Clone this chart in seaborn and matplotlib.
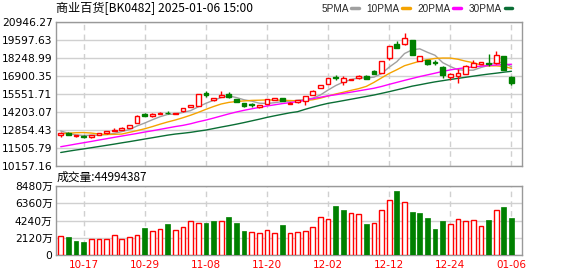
import numpy as np
import pandas as pd
import matplotlib
matplotlib.use("Agg")
import matplotlib.pyplot as plt
import seaborn as sns
from matplotlib.lines import Line2D

# ---------------- data ----------------
title = "商业百货[BK0482] 2025-01-06 15:00"
vol_title = "成交量:44994387"
date_ticks = [3, 11, 19, 27, 35, 43, 51, 59]
date_labels = ["10-17", "10-29", "11-08", "11-20", "12-02", "12-12", "12-24", "01-06"]
price_ticks = [10157.16, 11505.79, 12854.43, 14203.07, 15551.71,
               16900.35, 18248.99, 19597.63, 20946.27]
vol_ticks = [0, 2120, 4240, 6360, 8480]
vol_tick_labels = ["0", "2120万", "4240万", "6360万", "8480万"]
ma_names = ["5PMA", "10PMA", "20PMA", "30PMA"]

opens = [12493, 12573, 12370, 12400, 12330, 12470, 12570, 12780, 12860, 12990,
         13350, 14050, 13850, 14030, 14120, 14020, 14220, 14550, 14620, 15600,
         15110, 15340, 15520, 15170, 14850, 14780, 14550, 14790, 15090, 15210,
         14800, 14900, 15040, 15440, 15970, 16310, 16780, 16460, 16590, 16710,
         16910, 17280, 17140, 18250, 19280, 19250, 19580, 18010, 18080, 17910,
         17580, 16830, 16890, 17040, 17580, 17760, 17860, 17840, 18380, 16830]
closes = [12617, 12478, 12420, 12280, 12430, 12570, 12770, 12840, 12950, 13220,
          13900, 13870, 14050, 14080, 14080, 14060, 14470, 14720, 15500, 15420,
          15200, 15490, 15330, 14920, 14600, 14700, 14720, 15150, 15200, 15020,
          14870, 15050, 15390, 15770, 16210, 16710, 16720, 16710, 16660, 16910,
          16660, 17040, 18010, 19110, 18960, 19700, 18440, 18380, 17810, 17840,
          16940, 17010, 17140, 17660, 17840, 17930, 17800, 18430, 17330, 16390]
highs = [12650, 12677, 12440, 12430, 12450, 12590, 12790, 12950, 13070, 13240,
         13920, 14070, 14070, 14150, 14220, 14100, 14490, 14740, 15520, 15760,
         15220, 15740, 15680, 15190, 14870, 14880, 14740, 15170, 15260, 15230,
         14900, 15070, 15410, 15830, 16230, 16730, 16950, 16870, 16680, 16930,
         16930, 17300, 18030, 19130, 19480, 20130, 19600, 18400, 18100, 18060,
         17600, 17090, 17390, 17680, 18040, 17950, 18510, 18760, 18400, 16850]
lows = [12304, 12450, 12330, 12250, 12260, 12450, 12550, 12760, 12840, 12970,
        13330, 13850, 13830, 14010, 14060, 14000, 14200, 14530, 14600, 15330,
        15040, 15320, 15250, 14900, 14580, 14580, 14460, 14770, 15070, 15000,
        14780, 14880, 14720, 15420, 15950, 16290, 16600, 16240, 16570, 16690,
        16640, 17020, 17120, 18040, 18940, 19230, 18420, 17980, 17700, 17700,
        16760, 16590, 16350, 17020, 17530, 17740, 17640, 17800, 17310, 16240]
# volume in 万
volumes = [2318, 2194, 1697, 1573, 1904, 1904, 1904, 2401, 1904, 2153,
           2401, 3312, 2898, 3146, 3809, 3022, 3436, 4140, 3892, 3933,
           4181, 4140, 4678, 3933, 2939, 2774, 2650, 3022, 2650, 3685,
           2650, 2774, 2898, 3395, 4637, 4388, 6044, 5548, 5134, 5009,
           3809, 3892, 5506, 6748, 7907, 6500, 5299, 5175, 4554, 3188,
           4181, 3767, 4388, 4140, 4264, 3519, 4305, 5506, 5920, 4499]
vol_up = [1, 0, 0, 0, 1, 1, 1, 1, 1, 1,
          1, 0, 1, 1, 0, 1, 1, 1, 1, 0,
          0, 1, 0, 0, 0, 1, 1, 1, 1, 0,
          1, 1, 1, 1, 1, 1, 0, 0, 1, 1,
          0, 1, 1, 1, 0, 1, 0, 0, 0, 0,
          0, 1, 1, 1, 1, 1, 0, 1, 0, 0]
ma5 = [12760, 12580, 12470, 12420, 12445, 12436, 12494, 12578, 12712, 12870,
       13136, 13356, 13600, 13826, 13998, 14030, 14150, 14284, 14568, 14830,
       15058, 15262, 15384, 15264, 15094, 14994, 14840, 14820, 14876, 14960,
       14994, 15060, 15108, 15222, 15460, 15828, 16162, 16426, 16604, 16740,
       16730, 16794, 17054, 17544, 17954, 18560, 18840, 18914, 18654, 18430,
       17878, 17592, 17344, 17314, 17314, 17512, 17670, 17928, 17862, 17572]
ma10 = [12551, 12589, 12626, 12641, 12603, 12529, 12492, 12507, 12529, 12658,
        12786, 12925, 13088, 13268, 13433, 13582, 13752, 13940, 14150, 14380,
        14590, 14780, 14900, 14970, 15010, 15050, 15065, 15090, 15075, 15055,
        15040, 15020, 15040, 15100, 15220, 15380, 15530, 15660, 15800, 15930,
        16100, 16400, 16740, 17074, 17349, 17648, 17820, 17987, 18102, 18195,
        18223, 18220, 18133, 17988, 17876, 17699, 17635, 17640, 17592, 17447]
ma20 = [11579, 11677, 11781, 11878, 11976, 12080, 12178, 12282, 12380, 12477,
        12574, 12679, 12776, 12880, 12985, 13090, 13179, 13299, 13448, 13575,
        13725, 13882, 14039, 14181, 14308, 14420, 14525, 14630, 14719, 14809,
        14884, 14958, 15070, 15182, 15287, 15392, 15474, 15572, 15669, 15766,
        15863, 15960, 16095, 16252, 16401, 16551, 16693, 16835, 16962, 17089,
        17224, 17336, 17426, 17500, 17560, 17613, 17665, 17702, 17732, 17755]
ma30 = [11146, 11243, 11333, 11415, 11505, 11594, 11684, 11774, 11871, 11961,
        12058, 12156, 12252, 12350, 12447, 12529, 12589, 12656, 12746, 12828,
        12940, 13052, 13157, 13269, 13389, 13516, 13643, 13778, 13897, 14009,
        14121, 14203, 14383, 14547, 14697, 14831, 14929, 15033, 15138, 15242,
        15347, 15452, 15578, 15705, 15841, 15976, 16117, 16222, 16334, 16439,
        16528, 16618, 16700, 16782, 16865, 16947, 17022, 17089, 17164, 17231]

# ---------------- style ----------------
RED = "#ff0000"
GREEN = "#008000"
MA_COLORS = ["#a0a0a0", "#f5a300", "#ff00ff", "#0a6e35"]
GRID = "#d0d0d0"
SPINE = "#999999"
FS = 7.7

sns.set_theme(style="white")
plt.rcParams["font.family"] = ["DejaVu Sans", "Noto Sans CJK SC"]

W, H = 578, 276
fig = plt.figure(figsize=(W / 100, H / 100), dpi=100)
fig.patch.set_facecolor("white")

L, R = 56, 522.3
ax = fig.add_axes([L / W, 1 - 165.7 / H, (R - L) / W, (165.7 - 21.7) / H])
axv = fig.add_axes([L / W, 1 - 254.7 / H, (R - L) / W, (254.7 - 186.3) / H])

n = len(closes)
x = np.arange(n)
o = np.array(opens, float)
c = np.array(closes, float)
up = c >= o

# moving averages
for vals, col in zip([ma5, ma10, ma20, ma30], MA_COLORS):
    sns.lineplot(x=x, y=vals, ax=ax, color=col, lw=1.0, zorder=2, legend=False)

# candles
cand_cols = [RED if u else GREEN for u in up]
ax.vlines(x, lows, highs, colors=cand_cols, lw=1, zorder=3)
body_h = np.maximum(np.abs(c - o), 50)
ax.bar(x, body_h, bottom=np.minimum(o, c), width=0.62,
       color=["white" if u else GREEN for u in up],
       edgecolor=cand_cols, linewidth=1, zorder=4)

# volume
df = pd.DataFrame({"i": x, "vol": volumes,
                   "dir": ["up" if u else "down" for u in vol_up]})
sns.barplot(data=df, x="i", y="vol", hue="dir", palette={"up": RED, "down": GREEN},
            dodge=False, width=0.62, saturation=1, ax=axv, legend=False, zorder=3)
for p in axv.patches:
    idx = int(round(p.get_x() + p.get_width() / 2))
    if 0 <= idx < n and vol_up[idx]:
        p.set_facecolor("white")
        p.set_edgecolor(RED)
        p.set_linewidth(1)
    else:
        p.set_edgecolor(GREEN)
        p.set_linewidth(0.5)

# axes formatting
for a in (ax, axv):
    a.set_xlim(-0.62, 60.42)
    a.set_xlabel("")
    a.set_ylabel("")
    a.set_xticks(date_ticks)
    a.xaxis.grid(True, color=GRID, ls=(0, (4, 3)), lw=1)
    a.yaxis.grid(True, color=GRID, ls="-", lw=1)
    a.set_axisbelow(True)
    a.set_facecolor("white")
    for s in a.spines.values():
        s.set_visible(True)
        s.set_color(SPINE)
        s.set_linewidth(1)
    a.tick_params(axis="both", length=0, labelsize=FS, colors="black")

ax.set_ylim(price_ticks[0], price_ticks[-1])
ax.set_yticks(price_ticks)
ax.set_yticklabels([f"{t:.2f}" for t in price_ticks])
ax.set_xticklabels([])
ax.tick_params(axis="y", pad=2.5)

axv.set_ylim(0, vol_ticks[-1])
axv.set_yticks(vol_ticks)
axv.set_yticklabels(vol_tick_labels)
axv.set_xticklabels(date_labels)
axv.tick_params(axis="y", pad=2.5)
axv.tick_params(axis="x", pad=4, labelcolor=RED, labelsize=7.5)

# texts
fig.text(L / W, 1 - 8.5 / H, title, ha="left", va="center", fontsize=8.7,
         color="black", family=["Noto Sans CJK SC", "DejaVu Sans"])
fig.text(57 / W, 1 - 177.5 / H, vol_title, ha="left", va="center", fontsize=8.5,
         color="black", family=["Noto Sans CJK SC", "DejaVu Sans"])

handles = [Line2D([], [], color=col, lw=2.5) for col in MA_COLORS]
fig.legend(handles, ma_names, loc="center right", bbox_to_anchor=(512 / W, 1 - 8.5 / H),
           ncol=4, frameon=False, markerfirst=False, handlelength=0.75,
           handletextpad=0.25, columnspacing=0.8, borderaxespad=0, borderpad=0,
           prop={"family": ["Liberation Sans", "DejaVu Sans"], "size": 7.2})

fig.savefig("out.png", dpi=100, facecolor="white")
